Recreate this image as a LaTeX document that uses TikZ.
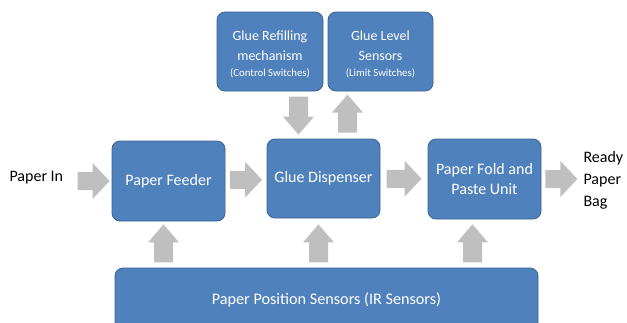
\documentclass[tikz,border=0pt]{standalone}
\usepackage{fontspec}
\setmainfont{Carlito}
\usetikzlibrary{calc}
\definecolor{boxblue}{HTML}{4F81BD}
\definecolor{boxedge}{HTML}{3B6391}
\definecolor{arrowgray}{HTML}{BFBFBF}
\tikzset{
  box/.style={draw=boxedge, line width=0.8pt, fill=boxblue, rounded corners=8pt,
    text=white, align=center, inner sep=2pt},
  bigtext/.style={font=\fontsize{16}{20}\selectfont},
  toptext/.style={text=white, align=center, font=\fontsize{14}{19.5}\selectfont},
  plain/.style={text=black, align=left, font=\fontsize{16}{22}\selectfont},
  pics/rarrow/.style={code={
    \fill[arrowgray] (-#1/2,-9) -- (#1/2-17,-9) -- (#1/2-17,-18) -- (#1/2,0)
      -- (#1/2-17,18) -- (#1/2-17,9) -- (-#1/2,9) -- cycle;}},
  pics/uarrow/.style={code={
    \fill[arrowgray] (-9.5,19) -- (-9.5,-1) -- (-15.5,-1) -- (0,-19)
      -- (15.5,-1) -- (9.5,-1) -- (9.5,19) -- cycle;}},
  pics/darrow/.style={code={
    \fill[arrowgray] (-9.5,-19) -- (-9.5,1) -- (-15.5,1) -- (0,19)
      -- (15.5,1) -- (9.5,1) -- (9.5,-19) -- cycle;}},
}
\newcommand{\subnote}[1]{{\fontsize{10.8}{12}\selectfont #1}}
\begin{document}
\begin{tikzpicture}[x=1pt,y=-1pt]
\useasboundingbox (0,0) rectangle (627,322);

% top row: boxes, then their captions set a little below centre
\node[box, minimum width=106pt, minimum height=79pt] (refill) at (270,51.5) {};
\node[box, minimum width=105pt, minimum height=79pt] (level) at (380.5,51.5) {};
\node[toptext] (refilltext) at ($(refill.center)+(0,3)$)
  {Glue Refilling\\mechanism\\[-3pt]\subnote{(Control Switches)}};
\node[toptext] (leveltext) at ($(level.center)+(0,3)$)
  {Glue Level\\Sensors\\[-3pt]\subnote{(Limit Switches)}};

% main row
\node[box, bigtext, minimum width=113pt, minimum height=80pt] (feeder) at (168.5,181) {Paper Feeder};
\node[box, bigtext, minimum width=113pt, minimum height=79pt] (disp) at (323.5,178.5) {Glue Dispenser};
\node[box, bigtext, minimum width=113pt, minimum height=80pt] (fold) at (484.5,179) {Paper Fold and\\Paste Unit};

% sensor bar
\node[box, font=\fontsize{16.2}{18}\selectfont, minimum width=423pt, minimum height=64pt] (ir) at (326.5,300)
  {Paper Position Sensors (IR Sensors)};

% outside labels
\node[plain, anchor=west] (in) at (6,178) {Paper In};
\node[plain, anchor=west] (out) at (580,180) {Ready\\Paper\\Bag};

% flow arrows
\pic at ($(feeder.west)+(-18,0)$) {rarrow=32};
\pic at ($(feeder.east)!0.5!(disp.west)$) {rarrow=32};
\pic at ($(disp.east)!0.5!(fold.west)$) {rarrow=35};
\pic at ($(fold.east)+(20,0)$) {rarrow=32};

% glue loop arrows
\pic at ($(disp.north)+(-25,-23)$) {darrow};
\pic at ($(disp.north)+(24,-25)$) {uarrow};

% sensor arrows
\pic at ($(feeder.south)+(-5,22)$) {uarrow};
\pic at ($(disp.south)+(-5,25)$) {uarrow};
\pic at ($(fold.south)+(-12,24)$) {uarrow};
\end{tikzpicture}
\end{document}
